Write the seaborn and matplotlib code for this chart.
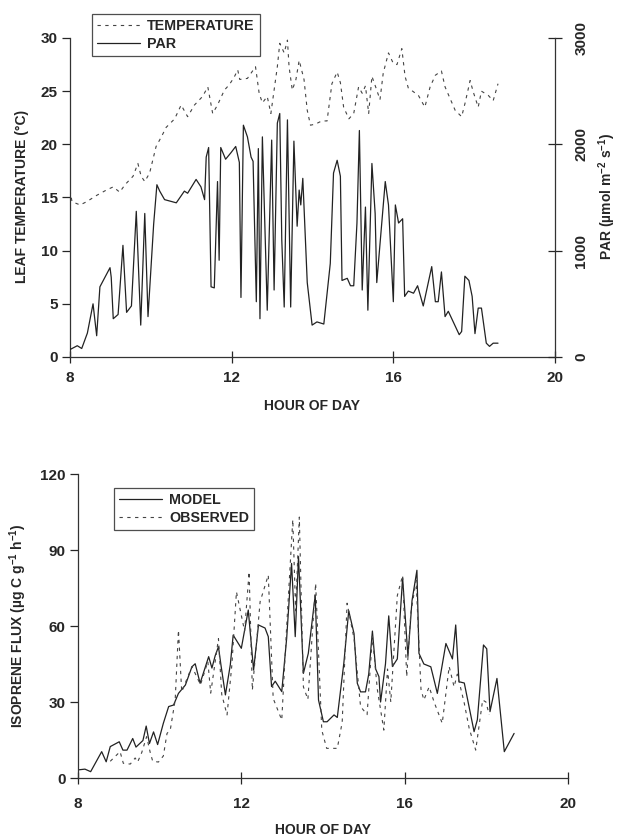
import numpy as np
import pandas as pd
import matplotlib
matplotlib.use("Agg")
import matplotlib.pyplot as plt
import seaborn as sns

# ---------------- data ----------------
par_hour = [8.00, 8.18, 8.29, 8.43, 8.57, 8.66, 8.74, 8.99, 9.02, 9.07, 9.19, 9.31, 9.40, 9.52,
            9.64, 9.75, 9.85, 9.93, 10.07, 10.15, 10.22, 10.34, 10.63, 10.83, 10.91, 11.12, 11.24,
            11.33, 11.37, 11.43, 11.49, 11.57, 11.65, 11.69, 11.73, 11.85, 11.98, 12.10, 12.19,
            12.23, 12.29, 12.39, 12.48, 12.53, 12.61, 12.66, 12.70, 12.76, 12.88, 12.99, 13.05,
            13.13, 13.19, 13.24, 13.30, 13.38, 13.46, 13.54, 13.62, 13.67, 13.71, 13.76, 13.87,
            13.99, 14.11, 14.28, 14.44, 14.52, 14.61, 14.69, 14.73, 14.86, 14.94, 15.02, 15.10,
            15.16, 15.23, 15.31, 15.37, 15.47, 15.55, 15.59, 15.80, 15.88, 16.00, 16.05, 16.13,
            16.23, 16.28, 16.37, 16.50, 16.60, 16.74, 16.95, 17.04, 17.11, 17.19, 17.28, 17.36,
            17.63, 17.69, 17.77, 17.87, 17.95, 18.02, 18.10, 18.18, 18.30, 18.38, 18.47, 18.59]
par_value = [70, 106, 80, 225, 500, 200, 660, 840, 750, 360, 400, 1050, 420, 480,
             1370, 300, 1350, 380, 1250, 1620, 1560, 1480, 1450, 1560, 1540, 1670, 1600,
             1480, 1880, 1970, 660, 650, 1650, 910, 1970, 1860, 1920, 1980, 1830,
             560, 2180, 2070, 1880, 1840, 520, 1960, 360, 2070, 440, 2040, 630,
             2200, 2290, 1100, 470, 2230, 470, 2030, 1230, 1570, 1430, 1680, 700,
             300, 330, 310, 880, 1730, 1850, 1700, 720, 740, 670, 670, 1260,
             2130, 630, 1410, 440, 1820, 1350, 700, 1650, 1430, 520, 1430, 1260,
             1300, 570, 620, 600, 670, 480, 850, 520, 520, 800, 380, 430,
             210, 240, 760, 720, 570, 220, 460, 460, 130, 100, 130, 130]

temp_hour = [8.00, 8.05, 8.25, 8.41, 8.66, 8.90, 9.07, 9.23, 9.36, 9.56, 9.68, 9.76, 9.85, 9.97,
             10.13, 10.26, 10.38, 10.59, 10.75, 10.91, 11.08, 11.28, 11.41, 11.53, 11.65, 11.82,
             11.94, 12.06, 12.15, 12.20, 12.39, 12.59, 12.68, 12.76, 12.88, 12.97, 13.05, 13.13,
             13.19, 13.30, 13.38, 13.42, 13.50, 13.59, 13.67, 13.79, 13.87, 13.95, 14.07, 14.23,
             14.36, 14.48, 14.61, 14.69, 14.77, 14.90, 15.02, 15.14, 15.23, 15.31, 15.39, 15.47,
             15.59, 15.67, 15.75, 15.88, 16.00, 16.09, 16.21, 16.29, 16.37, 16.62, 16.78, 16.91,
             17.04, 17.19, 17.28, 17.53, 17.69, 17.77, 17.90, 17.98, 18.10, 18.18, 18.35, 18.47, 18.59]
temp_value = [15.7, 14.6, 14.3, 14.6, 15.2, 15.7, 16.0, 15.5, 16.2, 17.0, 18.2, 17.0, 16.5, 17.3,
              19.8, 20.7, 21.6, 22.4, 23.7, 22.6, 23.7, 24.5, 25.4, 22.9, 23.7, 25.1,
              25.6, 26.3, 27.0, 26.1, 26.2, 27.3, 24.8, 23.9, 24.5, 22.9, 25.1, 27.3,
              29.5, 28.6, 29.8, 27.3, 25.1, 26.1, 27.9, 26.1, 23.2, 21.8, 21.9, 22.2,
              22.2, 25.7, 26.8, 25.8, 23.5, 22.4, 22.9, 25.4, 24.8, 25.5, 22.9, 26.4,
              25.1, 24.2, 26.7, 28.6, 27.6, 27.5, 29.0, 26.4, 25.3, 24.6, 23.5, 25.4,
              26.5, 26.9, 25.4, 23.2, 22.6, 23.8, 26.0, 24.9, 23.5, 25.0, 24.6, 24.1, 25.7]

model_hour = [8.00, 8.17, 8.31, 8.58, 8.69, 8.79, 9.01, 9.10, 9.20, 9.34, 9.42, 9.59, 9.67, 9.75,
              9.85, 9.95, 10.09, 10.22, 10.34, 10.46, 10.63, 10.79, 10.87, 10.99, 11.20, 11.28,
              11.36, 11.44, 11.50, 11.61, 11.73, 11.80, 12.00, 12.17, 12.30, 12.42, 12.58, 12.66,
              12.74, 12.83, 12.99, 13.11, 13.23, 13.32, 13.40, 13.52, 13.64, 13.81, 13.89, 14.01,
              14.10, 14.27, 14.35, 14.51, 14.63, 14.76, 14.84, 14.92, 15.04, 15.12, 15.21, 15.29,
              15.37, 15.41, 15.53, 15.61, 15.70, 15.82, 15.95, 16.08, 16.18, 16.30, 16.35, 16.47,
              16.64, 16.70, 16.80, 17.01, 17.17, 17.25, 17.33, 17.46, 17.70, 17.78, 17.93, 18.01,
              18.09, 18.26, 18.44, 18.68]
model_flux = [3.2, 3.5, 2.5, 10.4, 6.4, 12.4, 14.3, 11.0, 11.0, 15.6, 12.2, 14.8, 20.5, 13.6,
              18.2, 13.2, 21.6, 28.2, 28.8, 33.4, 36.7, 43.9, 45.1, 37.4, 47.9, 43.4,
              48.3, 51.8, 44.7, 32.8, 44.7, 56.4, 51.2, 66.3, 42.6, 60.4, 59.2, 55.8,
              36.1, 38.2, 34.1, 55.1, 84.7, 55.8, 87.4, 41.3, 49.2, 72.2, 30.8, 22.2,
              22.2, 24.9, 23.9, 45.3, 66.0, 57.0, 37.4, 34.0, 34.0, 41.0, 58.0, 43.0,
              40.0, 30.0, 45.0, 64.0, 44.0, 47.0, 79.0, 48.0, 70.0, 82.0, 49.2, 45.0,
              43.9, 40.0, 33.4, 53.1, 47.0, 60.4, 38.0, 37.5, 18.3, 23.0, 52.5, 51.0,
              26.2, 39.3, 10.4, 17.6]

obs_hour = [8.79, 9.03, 9.11, 9.28, 9.40, 9.46, 9.56, 9.68, 9.77, 9.83, 9.97, 10.09, 10.18, 10.26,
            10.38, 10.46, 10.54, 10.79, 11.00, 11.18, 11.25, 11.44, 11.52, 11.65, 11.77, 11.88,
            12.08, 12.19, 12.27, 12.46, 12.66, 12.78, 12.99, 13.11, 13.26, 13.33, 13.42, 13.52,
            13.63, 13.82, 13.97, 14.09, 14.35, 14.47, 14.59, 14.76, 14.92, 15.08, 15.21, 15.33,
            15.49, 15.58, 15.66, 15.82, 15.95, 16.05, 16.15, 16.28, 16.40, 16.47, 16.60, 16.72,
            16.92, 17.09, 17.21, 17.29, 17.46, 17.58, 17.74, 17.91, 17.99, 18.07]
obs_flux = [6.6, 10.4, 5.8, 5.5, 7.9, 6.3, 10.0, 16.3, 10.0, 6.6, 6.3, 8.7, 17.6, 19.0,
            30.8, 58.4, 34.0, 44.0, 36.8, 46.0, 33.5, 55.0, 33.0, 24.9, 45.0, 73.5,
            58.0, 81.4, 34.7, 69.6, 80.1, 31.4, 22.9, 59.7, 102.0, 66.0, 103.0, 36.0,
            31.0, 76.8, 18.9, 11.7, 11.7, 22.0, 69.0, 55.0, 28.2, 25.0, 56.0, 35.0,
            18.9, 43.0, 30.0, 72.0, 80.0, 40.0, 65.0, 78.0, 35.0, 30.8, 36.0, 30.0,
            21.6, 44.0, 36.0, 41.0, 29.5, 19.6, 11.0, 30.8, 30.0, 25.0]

x_ticks = [8, 12, 16, 20]
temp_ticks = [0, 5, 10, 15, 20, 25, 30]
par_ticks = [0, 1000, 2000, 3000]
flux_ticks = [0, 30, 60, 90, 120]

# ---------------- style ----------------
sns.set_theme(style="ticks")
plt.rcParams['font.family'] = ['Liberation Sans', 'DejaVu Sans']
plt.rcParams['font.weight'] = 'bold'
plt.rcParams['axes.labelweight'] = 'bold'
plt.rcParams['mathtext.fontset'] = 'custom'
plt.rcParams['mathtext.rm'] = 'Liberation Sans:bold'
plt.rcParams['mathtext.it'] = 'Liberation Sans:bold'
plt.rcParams['mathtext.bf'] = 'Liberation Sans:bold'
plt.rcParams['mathtext.default'] = 'bf'

W, H = 618, 836
fig = plt.figure(figsize=(W / 100, H / 100), dpi=100)
fig.patch.set_facecolor('white')

TICK_FS = 11
LAB_FS = 10
LEG_FS = 10.3
line_col = '#222222'
dash_col = '#444444'

# ---------------- top panel ----------------
top_y0, top_y1 = 357, 36
ax = fig.add_axes([70 / W, 1 - top_y0 / H, (555 - 70) / W, (top_y0 - top_y1) / H])
ax.set_facecolor('white')
ax2 = ax.twinx()

df_t = pd.DataFrame({'hour': temp_hour, 'temp': temp_value})
df_p = pd.DataFrame({'hour': par_hour, 'par': par_value})

sns.lineplot(data=df_t, x='hour', y='temp', ax=ax, color=dash_col, linewidth=0.8,
             linestyle=(0, (3, 4)), estimator=None, sort=False, label='TEMPERATURE', legend=False)
sns.lineplot(data=df_p, x='hour', y='par', ax=ax2, color=line_col, linewidth=0.9,
             estimator=None, sort=False, label='PAR', legend=False)

scale = (top_y0 - top_y1) / (357 - 38)
ax.set_xlim(8, 20)
ax.set_ylim(0, 30 * scale)
ax2.set_ylim(0, 3000 * scale)
ax.set_xticks(x_ticks)
ax.set_yticks(temp_ticks)
ax2.set_yticks(par_ticks)
ax2.set_yticklabels([str(v) for v in par_ticks], rotation=90, va='center')

for a in (ax, ax2):
    a.spines['top'].set_visible(False)
    for s in a.spines.values():
        s.set_color('#333333')
        s.set_linewidth(0.9)
ax.spines['right'].set_visible(False)
ax2.spines['left'].set_visible(False)
ax2.spines['bottom'].set_visible(False)
ax.spines['left'].set_bounds(0, 30)
ax2.spines['right'].set_bounds(0, 3000)

ax.tick_params(axis='y', direction='out', length=6, width=0.9, labelsize=TICK_FS, pad=3)
ax.tick_params(axis='x', direction='inout', length=8, width=0.9, labelsize=TICK_FS, pad=6)
ax2.tick_params(axis='y', direction='inout', length=10, width=0.9, labelsize=TICK_FS, pad=9)
for lab in ax.get_xticklabels() + ax.get_yticklabels() + ax2.get_yticklabels():
    lab.set_fontweight('bold')

ax.set_xlabel('HOUR OF DAY', fontsize=LAB_FS, fontweight='bold', labelpad=10)
ax.set_ylabel('LEAF TEMPERATURE (°C)', fontsize=LAB_FS, fontweight='bold', labelpad=8)
ax2.set_ylabel('PAR (µmol m$^{-2}$ s$^{-1}$)', fontsize=LAB_FS, fontweight='bold',
               rotation=90, labelpad=6)
ax.grid(False)
ax2.grid(False)

h1 = ax.get_lines()[0]
h2 = ax2.get_lines()[0]
leg = ax2.legend([h1, h2], ['TEMPERATURE', 'PAR'], loc='upper left',
                 bbox_to_anchor=(92 / W, 1 - 14 / H), bbox_transform=fig.transFigure,
                 borderaxespad=0, frameon=True, fancybox=False,
                 handlelength=3.0, handletextpad=0.5, borderpad=0.35, labelspacing=0.3,
                 prop={'weight': 'bold', 'size': LEG_FS})
leg.get_frame().set_edgecolor('#222222')
leg.get_frame().set_linewidth(0.9)

# ---------------- bottom panel ----------------
bot_y0, bot_y1 = 778, 474
bx = fig.add_axes([78 / W, 1 - bot_y0 / H, (568 - 78) / W, (bot_y0 - bot_y1) / H])
bx.set_facecolor('white')

df_m = pd.DataFrame({'hour': model_hour, 'flux': model_flux})
df_o = pd.DataFrame({'hour': obs_hour, 'flux': obs_flux})
sns.lineplot(data=df_m, x='hour', y='flux', ax=bx, color=line_col, linewidth=0.9,
             estimator=None, sort=False, label='MODEL', legend=False)
sns.lineplot(data=df_o, x='hour', y='flux', ax=bx, color=dash_col, linewidth=0.8,
             linestyle=(0, (3, 4)), estimator=None, sort=False, label='OBSERVED', legend=False)

bx.set_xlim(8, 20)
bx.set_ylim(0, 120)
bx.set_xticks(x_ticks)
bx.set_yticks(flux_ticks)
bx.spines['top'].set_visible(False)
bx.spines['right'].set_visible(False)
for s in bx.spines.values():
    s.set_color('#333333')
    s.set_linewidth(0.9)
bx.tick_params(axis='y', direction='out', length=6, width=0.9, labelsize=TICK_FS, pad=3)
bx.tick_params(axis='x', direction='inout', length=8, width=0.9, labelsize=TICK_FS, pad=10)
for lab in bx.get_xticklabels() + bx.get_yticklabels():
    lab.set_fontweight('bold')
bx.set_xlabel('HOUR OF DAY', fontsize=LAB_FS, fontweight='bold', labelpad=8)
bx.set_ylabel('ISOPRENE FLUX (µg C g$^{-1}$ h$^{-1}$)', fontsize=LAB_FS,
              fontweight='bold', labelpad=8)
bx.grid(False)

lines = bx.get_lines()
leg2 = bx.legend([lines[0], lines[1]], ['MODEL', 'OBSERVED'], loc='upper left',
                 bbox_to_anchor=(114 / W, 1 - 488 / H), bbox_transform=fig.transFigure,
                 borderaxespad=0, frameon=True, fancybox=False,
                 handlelength=3.0, handletextpad=0.5, borderpad=0.35, labelspacing=0.3,
                 prop={'weight': 'bold', 'size': LEG_FS})
leg2.get_frame().set_edgecolor('#222222')
leg2.get_frame().set_linewidth(0.9)

fig.savefig('out.png', dpi=100, facecolor='white')
